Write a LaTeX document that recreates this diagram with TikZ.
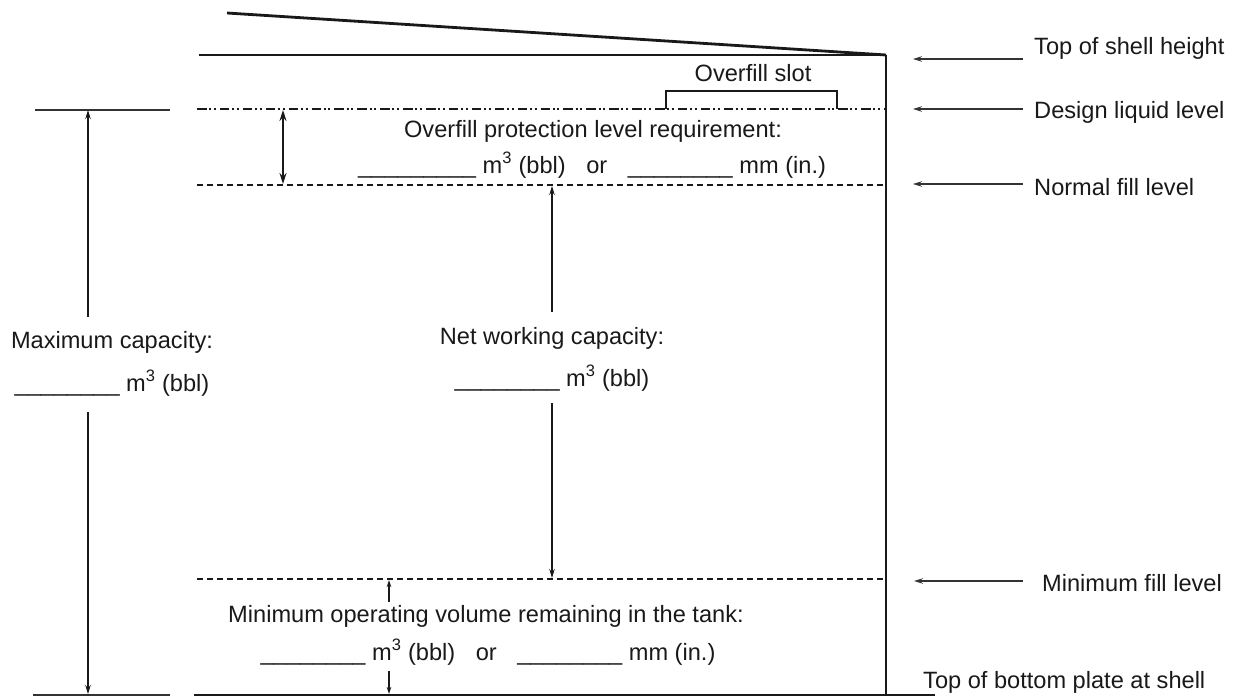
\documentclass[tikz,border=0pt]{standalone}
\usepackage{fontspec}
\setmainfont{Liberation Sans}
\usetikzlibrary{arrows.meta}
\begin{document}
\begin{tikzpicture}[x=1pt,y=-1pt,
  lbl/.style={inner sep=0pt, font=\fontsize{23.6}{28}\selectfont, text=black!90},
  wall/.style={line width=2.8pt, draw=black!90},
  thinline/.style={line width=1.4pt, draw=black!80},
  dashlvl/.style={line width=2.3pt, draw=black!90, dash pattern=on 6pt off 4pt},
  dashdotlvl/.style={line width=2.3pt, draw=black!90, dash pattern=on 9.5pt off 2.7pt on 2pt off 2.7pt on 2pt off 4pt},
  callout/.style={line width=1.4pt, draw=black!80, -{Stealth[length=9pt,width=5.5pt]}},
  dimarr/.style={line width=1.3pt, draw=black!90, -{Stealth[length=9pt,width=5.5pt]}},
  smallarr/.style={line width=1.2pt, draw=black!90, -{Stealth[length=7pt,width=4.5pt]}},
  dblarr/.style={line width=1.5pt, draw=black!90, {Stealth[length=11pt,width=7pt]}-{Stealth[length=11pt,width=7pt]}}
]
\useasboundingbox (0,0) rectangle (1236,698);

% ---------- tank outline ----------
\coordinate (roofL) at (227,13);
\coordinate (shellTop) at (886,55);
\coordinate (shellBot) at (886,696);
\coordinate (topL) at (199,55);
\coordinate (botL) at (194,695);
\coordinate (botR) at (935,695);
\draw[wall] (roofL) -- (shellTop);
\draw[wall] (topL) -- (shellTop);
\draw[wall] (shellTop) -- (shellBot);
\draw[wall] (botL) -- (botR);

% ---------- levels ----------
\coordinate (dllL) at (197,109);
\coordinate (dllR) at (885,109);
\coordinate (nflL) at (197,185);
\coordinate (nflR) at (885,185);
\coordinate (mflL) at (197,579);
\coordinate (mflR) at (885,579);
\draw[dashdotlvl] (dllL) -- (dllR);
\draw[dashlvl] (nflL) -- (nflR);
\draw[dashlvl] (mflL) -- (mflR);

% ---------- overfill slot ----------
\coordinate (slotA) at (666,109);
\coordinate (slotB) at (666,91);
\coordinate (slotC) at (837,91);
\coordinate (slotD) at (837,109);
\draw[line width=2.3pt, draw=black!90] (slotA) -- (slotB) -- (slotC) -- (slotD);
\node[lbl, anchor=base] (slot) at (753,82) {Overfill slot};

% ---------- left extension lines ----------
\coordinate (extTL) at (35,110);
\coordinate (extTR) at (170,110);
\coordinate (extBL) at (33,695);
\coordinate (extBR) at (170,695);
\draw[thinline] (extTL) -- (extTR);
\draw[thinline] (extBL) -- (extBR);

% ---------- maximum capacity ----------
\node[lbl, anchor=base] (max1) at (112,348) {Maximum capacity:};
\node[lbl, anchor=base] (max2) at (112,391) {\_\_\_\_\_\_\_\_ m\textsuperscript{3} (bbl)};
\coordinate (maxT0) at (88,317);
\coordinate (maxT1) at (88,110);
\coordinate (maxB0) at (88,412);
\coordinate (maxB1) at (88,694);
\draw[dimarr] (maxT0) -- (maxT1);
\draw[dimarr] (maxB0) -- (maxB1);

% ---------- overfill protection ----------
\coordinate (ofT) at (283,110);
\coordinate (ofB) at (283,184);
\draw[dblarr] (ofT) -- (ofB);
\node[lbl, anchor=base] (of1) at (593,138) {Overfill protection level requirement:};
\node[lbl, anchor=base] (of2) at (592,173) {\_\_\_\_\_\_\_\_\_ m\textsuperscript{3} (bbl)\hspace{14pt} or\hspace{14pt} \_\_\_\_\_\_\_\_ mm (in.)};

% ---------- net working capacity ----------
\node[lbl, anchor=base] (nw1) at (552,344) {Net working capacity:};
\node[lbl, anchor=base] (nw2) at (552,386) {\_\_\_\_\_\_\_\_ m\textsuperscript{3} (bbl)};
\coordinate (nwT0) at (552,312);
\coordinate (nwT1) at (552,186);
\coordinate (nwB0) at (552,403);
\coordinate (nwB1) at (552,578);
\draw[dimarr] (nwT0) -- (nwT1);
\draw[dimarr] (nwB0) -- (nwB1);

% ---------- minimum operating volume ----------
\node[lbl, anchor=base] (mo1) at (486,622) {Minimum operating volume remaining in the tank:};
\node[lbl, anchor=base] (mo2) at (488,660) {\_\_\_\_\_\_\_\_ m\textsuperscript{3} (bbl)\hspace{14pt} or\hspace{14pt} \_\_\_\_\_\_\_\_ mm (in.)};
\coordinate (moT0) at (389,602);
\coordinate (moT1) at (389,580);
\coordinate (moB0) at (389,671);
\coordinate (moB1) at (389,694);
\draw[smallarr] (moT0) -- (moT1);
\draw[smallarr] (moB0) -- (moB1);

% ---------- right call-outs ----------
\node[lbl, anchor=base west] (tsh) at (1034,55) {Top of shell height};
\node[lbl, anchor=base west] (dll) at (1034,118) {Design liquid level};
\node[lbl, anchor=base west] (nfl) at (1034,195) {Normal fill level};
\node[lbl, anchor=base west] (mfl) at (1042,591) {Minimum fill level};
\node[lbl, anchor=base west] (tbp) at (923,688) {Top of bottom plate at shell};

\coordinate (c1a) at (1023,59);  \coordinate (c1b) at (913,59);
\coordinate (c2a) at (1023,109); \coordinate (c2b) at (913,109);
\coordinate (c3a) at (1023,184); \coordinate (c3b) at (913,184);
\coordinate (c4a) at (1023,581); \coordinate (c4b) at (914,581);
\draw[callout] (c1a) -- (c1b);
\draw[callout] (c2a) -- (c2b);
\draw[callout] (c3a) -- (c3b);
\draw[callout] (c4a) -- (c4b);
\end{tikzpicture}
\end{document}
